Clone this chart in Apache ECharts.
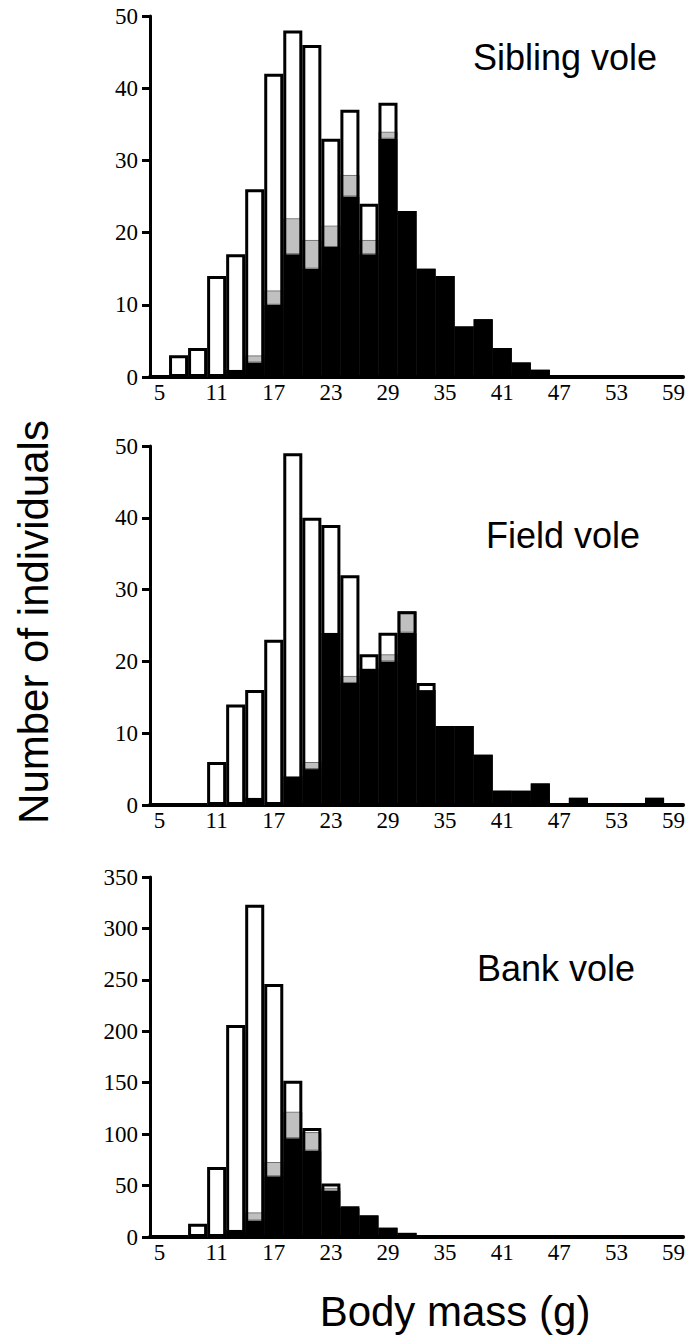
<!DOCTYPE html>
<html>
<head>
<meta charset="utf-8">
<title>Body mass of voles</title>
<script src="https://cdn.jsdelivr.net/npm/echarts@6.0.0/dist/echarts.min.js"></script>
<style>
  html, body { margin: 0; padding: 0; background: #fff; }
  #chart { width: 688px; height: 1336px; }
</style>
</head>
<body>
<div id="chart"></div>
<script>
// body mass classes (g), 2 g wide
const massBins = ['5', '7', '9', '11', '13', '15', '17', '19', '21', '23', '25', '27', '29', '31',
  '33', '35', '37', '39', '41', '43', '45', '47', '49', '51', '53', '55', '57', '59']

// Sibling vole: black / grey / white parts of each bar
const siblingBlack = [0, 0, 0, 0, 1, 2, 10, 17, 15, 18, 25, 17, 33, 23, 15, 14, 7, 8, 4, 2, 1, 0, 0, 0, 0, 0, 0, 0]
const siblingGrey = [0, 0, 0, 0, 0, 1, 2, 5, 4, 3, 3, 2, 1, 0, 0, 0, 0, 0, 0, 0, 0, 0, 0, 0, 0, 0, 0, 0]
const siblingWhite = [0, 3, 4, 14, 16, 23, 30, 26, 27, 12, 9, 5, 4, 0, 0, 0, 0, 0, 0, 0, 0, 0, 0, 0, 0, 0, 0, 0]

// Field vole
const fieldBlack = [0, 0, 0, 0, 0, 1, 0, 4, 5, 24, 17, 19, 20, 24, 16, 11, 11, 7, 2, 2, 3, 0, 1, 0, 0, 0, 1, 0]
const fieldGrey = [0, 0, 0, 0, 0, 0, 0, 0, 1, 0, 1, 0, 1, 3, 0, 0, 0, 0, 0, 0, 0, 0, 0, 0, 0, 0, 0, 0]
const fieldWhite = [0, 0, 0, 6, 14, 15, 23, 45, 34, 15, 14, 2, 3, 0, 1, 0, 0, 0, 0, 0, 0, 0, 0, 0, 0, 0, 0, 0]

// Bank vole
const bankBlack = [0, 0, 0, 0, 7, 16, 59, 96, 84, 45, 28, 21, 9, 4, 0, 0, 0, 0, 0, 0, 0, 0, 0, 0, 0, 0, 0, 0]
const bankGrey = [0, 0, 0, 0, 0, 8, 14, 26, 18, 3, 1, 0, 0, 0, 0, 0, 0, 0, 0, 0, 0, 0, 0, 0, 0, 0, 0, 0]
const bankWhite = [0, 0, 13, 68, 199, 299, 173, 30, 4, 4, 1, 0, 0, 0, 0, 0, 0, 0, 0, 0, 0, 0, 0, 0, 0, 0, 0, 0]

const panelNames = ['Sibling vole', 'Field vole', 'Bank vole']
const yMax = [50, 50, 350]
const yStep = [10, 10, 50]

const panels = [
  [siblingBlack, siblingGrey, siblingWhite],
  [fieldBlack, fieldGrey, fieldWhite],
  [bankBlack, bankGrey, bankWhite]
]

const tickFont = 'Liberation Serif'
const grids = [
  { left: 150, right: 0, top: 16, height: 361 },
  { left: 150, right: 0, top: 446, height: 359 },
  { left: 150, right: 0, top: 877, height: 360 }
]

// zero parts are left out so no stray border line is drawn
const noZero = arr => arr.map(v => (v > 0 ? v : null))

function panelSeries(idx, black, grey, white) {
  const common = {
    type: 'bar',
    xAxisIndex: idx,
    yAxisIndex: idx,
    stack: 'p' + idx,
    barCategoryGap: '0%',
    barGap: '-100%',
    silent: true,
    animation: false
  }
  const totals = black.map((v, i) => v + grey[i] + white[i])
  return [
    { ...common, name: 'black', data: black, itemStyle: { color: '#000' } },
    { ...common, name: 'grey', data: noZero(grey), itemStyle: { color: '#c0c0c0', borderColor: '#666', borderWidth: 1 } },
    { ...common, name: 'white', data: noZero(white), itemStyle: { color: '#fff' } },
    {
      // outline round each whole bar
      type: 'bar',
      xAxisIndex: idx,
      yAxisIndex: idx,
      data: totals,
      barCategoryGap: '0%',
      barGap: '-100%',
      silent: true,
      animation: false,
      z: 3,
      itemStyle: { color: 'rgba(0,0,0,0)', borderColor: '#000', borderWidth: 3 }
    }
  ]
}

const chart = echarts.init(document.getElementById('chart'), null, { renderer: 'svg' })

const option = {
  backgroundColor: '#fff',
  animation: false,
  grid: grids,
  xAxis: grids.map((g, i) => ({
    gridIndex: i,
    type: 'category',
    data: massBins,
    axisLine: { lineStyle: { color: '#000', width: 4 } },
    axisTick: { show: false },
    axisLabel: { interval: 2, color: '#000', fontFamily: tickFont, fontSize: 23, margin: 4 }
  })),
  yAxis: grids.map((g, i) => ({
    gridIndex: i,
    type: 'value',
    min: 0,
    max: yMax[i],
    interval: yStep[i],
    axisLine: { show: true, lineStyle: { color: '#000', width: 3 } },
    axisTick: { show: true, length: 8, lineStyle: { color: '#000', width: 3 } },
    axisLabel: { color: '#000', fontFamily: tickFont, fontSize: 23, margin: 12 },
    splitLine: { show: false }
  })),
  series: panels.flatMap((p, i) => panelSeries(i, p[0], p[1], p[2])),
  graphic: [
    { type: 'text', x: 565, y: 57, style: { text: panelNames[0], font: '36px "Liberation Sans"', fill: '#000', align: 'center', verticalAlign: 'middle' } },
    { type: 'text', x: 563, y: 535, style: { text: panelNames[1], font: '36px "Liberation Sans"', fill: '#000', align: 'center', verticalAlign: 'middle' } },
    { type: 'text', x: 556, y: 968, style: { text: panelNames[2], font: '36px "Liberation Sans"', fill: '#000', align: 'center', verticalAlign: 'middle' } },
    { type: 'text', x: 455, y: 1311, style: { text: 'Body mass (g)', font: '42px "Liberation Sans"', fill: '#000', align: 'center', verticalAlign: 'middle' } },
    { type: 'text', x: 33, y: 622, rotation: Math.PI / 2, style: { text: 'Number of individuals', font: '42px "Liberation Sans"', fill: '#000', align: 'center', verticalAlign: 'middle' } }
  ]
}

chart.setOption(option)
</script>
</body>
</html>
